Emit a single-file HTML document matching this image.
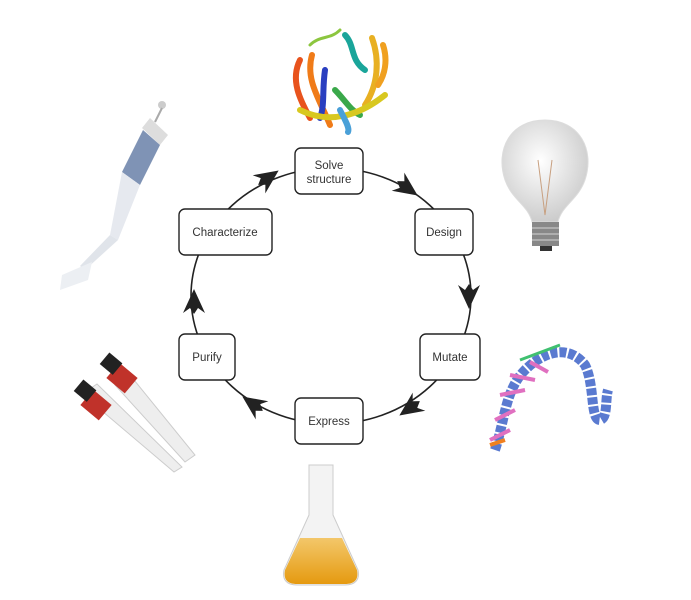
<!DOCTYPE html>
<html><head><meta charset="utf-8"><style>
html,body{margin:0;padding:0;background:#fff;}
svg{display:block}
text{font-family:"Liberation Sans",sans-serif;font-size:11.5px;fill:#333;text-anchor:middle}
</style></head><body>
<svg width="691" height="600" viewBox="0 0 691 600" xmlns="http://www.w3.org/2000/svg">
<defs>
<g id="ah"><polygon points="13,0 -11,-11 -6,-4 -12,0 -6,4 -11,11" fill="#222"/></g>
<radialGradient id="bulb" cx="45%" cy="40%" r="60%"><stop offset="0" stop-color="#fff"/><stop offset="1" stop-color="#ccc"/></radialGradient>
<linearGradient id="liq" x1="0" y1="0" x2="0" y2="1"><stop offset="0" stop-color="#f3c76a"/><stop offset="1" stop-color="#e59a10"/></linearGradient>
</defs>
<ellipse cx="331" cy="296" rx="140" ry="128" fill="none" stroke="#222" stroke-width="1.6"/>
<use href="#ah" transform="translate(268,178) rotate(-35)"/>
<use href="#ah" transform="translate(407,188) rotate(35)"/>
<use href="#ah" transform="translate(469,296) rotate(90)"/>
<use href="#ah" transform="translate(410,408) rotate(145)"/>
<use href="#ah" transform="translate(253,404) rotate(-145)"/>
<use href="#ah" transform="translate(194,302) rotate(-90)"/>
<g fill="#fff" stroke="#222" stroke-width="1.4">
<rect x="295" y="148" width="68" height="46" rx="6"/>
<rect x="179" y="209" width="93" height="46" rx="6"/>
<rect x="415" y="209" width="58" height="46" rx="6"/>
<rect x="179" y="334" width="56" height="46" rx="6"/>
<rect x="420" y="334" width="60" height="46" rx="6"/>
<rect x="295" y="398" width="68" height="46" rx="6"/>
</g>
<text x="329" y="169">Solve</text><text x="329" y="183">structure</text>
<text x="225" y="236">Characterize</text>
<text x="444" y="236">Design</text>
<text x="207" y="361">Purify</text>
<text x="450" y="361">Mutate</text>
<text x="329" y="425">Express</text>
<g fill="none" stroke-width="6" stroke-linecap="round">
<path d="M300,60 C290,80 300,100 310,118" stroke="#e8531d"/>
<path d="M312,55 C305,80 320,100 330,125" stroke="#f07b18"/>
<path d="M325,70 C322,90 325,105 320,118" stroke="#2a3fc0"/>
<path d="M335,90 C345,100 350,110 360,115" stroke="#3aa84a"/>
<path d="M345,35 C355,45 350,60 365,70" stroke="#1aa59a"/>
<path d="M372,38 C380,60 378,85 365,105" stroke="#e8b022"/>
<path d="M300,110 C330,125 360,115 385,95" stroke="#d8c820"/>
<path d="M340,110 C345,120 350,128 348,132" stroke="#4aa0d8"/>
<path d="M310,45 C320,35 330,40 340,30" stroke="#8cc63f" stroke-width="3"/>
<path d="M383,45 C388,60 385,75 378,85" stroke="#f0a020"/>
</g>
<g>
<path d="M150,118 L168,135 L160,145 L142,128Z" fill="#ddd"/>
<path d="M143,130 L160,145 L140,185 L122,172Z" fill="#7f93b5"/>
<path d="M122,172 L140,185 L118,240 L110,235Z" fill="#e6e9ef"/>
<path d="M110,235 L118,240 L85,270 L80,266Z" fill="#e0e4ea"/>
<path d="M62,275 L92,262 L88,280 L60,290Z" fill="#eceff3"/>
<circle cx="162" cy="105" r="4" fill="#ccc"/>
<line x1="162" y1="108" x2="155" y2="122" stroke="#aaa" stroke-width="2"/>
</g>
<g>
<path d="M545,120 C510,120 495,150 505,180 C512,200 528,205 532,222 L558,222 C562,205 578,200 585,180 C595,150 580,120 545,120Z" fill="url(#bulb)" stroke="#ddd"/>
<path d="M538,160 L545,215 M552,160 L545,215" stroke="#c8a080" fill="none"/>
<rect x="532" y="222" width="27" height="24" fill="#888"/>
<g stroke="#bbb" stroke-width="1.5"><line x1="532" y1="228" x2="559" y2="228"/><line x1="532" y1="234" x2="559" y2="234"/><line x1="532" y1="240" x2="559" y2="240"/></g>
<rect x="540" y="246" width="12" height="5" fill="#333"/>
</g>
<g>
<path d="M495,450 C505,420 505,390 525,370 C545,350 570,345 585,365 C595,385 590,420 600,420 C608,418 605,400 608,390" fill="none" stroke="#5a7ad0" stroke-width="10" stroke-dasharray="7 2"/>
<path d="M490,440 L510,430 M495,420 L515,410 M500,395 L525,390 M510,375 L535,380 M530,362 L548,372" stroke="#e070c0" stroke-width="4"/>
<path d="M490,445 L505,440" stroke="#f08020" stroke-width="4"/>
<path d="M520,360 L560,345" stroke="#40c070" stroke-width="3"/>
</g>
<g>
<path d="M115,385 L130,375 L195,455 L185,462Z" fill="#eee" stroke="#ccc"/>
<path d="M90,412 L105,402 L190,485 L182,490Z" fill="#eee" stroke="#ccc" transform="translate(-8,-18)"/>
<rect x="110" y="368" width="24" height="20" fill="#c0322a" transform="rotate(40 122 378)"/>
<rect x="84" y="395" width="24" height="20" fill="#c0322a" transform="rotate(40 96 405)"/>
<rect x="103" y="356" width="17" height="15" fill="#222" transform="rotate(40 111 363)"/>
<rect x="77" y="383" width="17" height="15" fill="#222" transform="rotate(40 85 390)"/>
</g>
<g>
<path d="M309,465 L333,465 L333,515 L358,570 C360,580 355,585 345,585 L297,585 C287,585 282,580 284,570 L309,515Z" fill="#f3f3f3" stroke="#ccc"/>
<path d="M300,538 L342,538 L357,570 C359,580 354,584 345,584 L297,584 C288,584 283,580 285,570Z" fill="url(#liq)"/>
</g>
</svg>
</body></html>
